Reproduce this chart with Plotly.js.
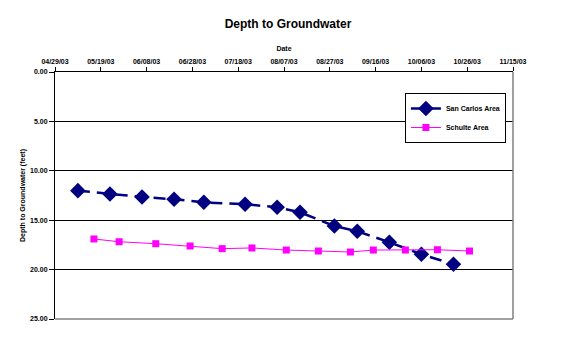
<!DOCTYPE html>
<html>
<head>
<meta charset="utf-8">
<script src="https://cdn.plot.ly/plotly-3.0.1.min.js"></script>
<style>html,body{margin:0;padding:0;background:#fff;}#chart{width:576px;height:354px;}</style>
</head>
<body>
<div id="chart"></div>
<script>
const sanCarlosDates = ['2003-05-09','2003-05-23','2003-06-06','2003-06-20','2003-07-03','2003-07-21','2003-08-04','2003-08-14','2003-08-29','2003-09-08','2003-09-22','2003-10-06','2003-10-20'];
const sanCarlosDepth = [12.01,12.35,12.65,12.88,13.19,13.39,13.69,14.20,15.59,16.12,17.23,18.45,19.46];
const schulteDates = ['2003-05-16','2003-05-27','2003-06-12','2003-06-27','2003-07-11','2003-07-24','2003-08-08','2003-08-22','2003-09-05','2003-09-15','2003-09-29','2003-10-13','2003-10-27'];
const schulteDepth = [16.90,17.18,17.38,17.61,17.88,17.81,18.02,18.12,18.22,18.02,18.02,17.99,18.12];
const seriesNames = ['San Carlos Area','Schulte Area'];
const yTickVals = [0,5,10,15,20,25];

const baseFont = {family:'Liberation Sans, Arial, sans-serif', size:7, color:'#000', weight:'bold'};

const traces = [
  {x:sanCarlosDates, y:sanCarlosDepth, name:seriesNames[0], type:'scatter', mode:'lines+markers',
   line:{color:'#000080', width:2.5, dash:'12px,7px'},
   marker:{symbol:'diamond', size:12, color:'#000080', line:{width:0}}},
  {x:schulteDates, y:schulteDepth, name:seriesNames[1], type:'scatter', mode:'lines+markers',
   line:{color:'#FF00FF', width:1},
   marker:{symbol:'square', size:7, color:'#FF00FF', line:{width:0}}}
];

const layout = {
  width:576, height:354,
  margin:{l:55, r:63, t:72, b:35, pad:0},
  paper_bgcolor:'#fff', plot_bgcolor:'#fff',
  font: baseFont,
  title:{text:'Depth to Groundwater', x:0.5, xanchor:'center', y:0.932, yanchor:'middle',
         font:{family:'Liberation Sans, Arial, sans-serif', size:12, color:'#000', weight:'bold'}},
  showlegend:true,
  legend:{x:0.764, y:0.915, xanchor:'left', yanchor:'top', bgcolor:'#fff', bordercolor:'#000', borderwidth:1,
          font:baseFont, tracegroupgap:0, itemwidth:30},
  xaxis:{
    type:'date', side:'top', range:['2003-04-29','2003-11-15'],
    tick0:'2003-04-29', dtick:20*86400000, tickformat:'%m/%d/%y',
    showgrid:false, zeroline:false, showline:true, linecolor:'#000', linewidth:1,
    ticks:'outside', ticklen:4, tickcolor:'#000', tickwidth:1,
    tickfont:baseFont,
    title:{text:'Date', font:baseFont, standoff:5}
  },
  yaxis:{
    range:[25,0], tickvals:yTickVals, tickformat:'.2f',
    showgrid:true, gridcolor:'#000', gridwidth:1, zeroline:false,
    showline:true, linecolor:'#000', linewidth:1,
    ticks:'outside', ticklen:5, tickcolor:'#000',
    tickfont:baseFont,
    title:{text:'Depth to Groundwater (feet)', font:baseFont, standoff:3}
  },
  shapes:[
    {type:'line', xref:'paper', yref:'paper', x0:0, x1:1, y0:0, y1:0, line:{color:'#808080', width:1.5}, layer:'above'},
    {type:'line', xref:'paper', yref:'paper', x0:1, x1:1, y0:0, y1:1, line:{color:'#808080', width:1.5}, layer:'above'}
  ]
};

Plotly.newPlot('chart', traces, layout, {staticPlot:true, displayModeBar:false});
</script>
</body>
</html>
